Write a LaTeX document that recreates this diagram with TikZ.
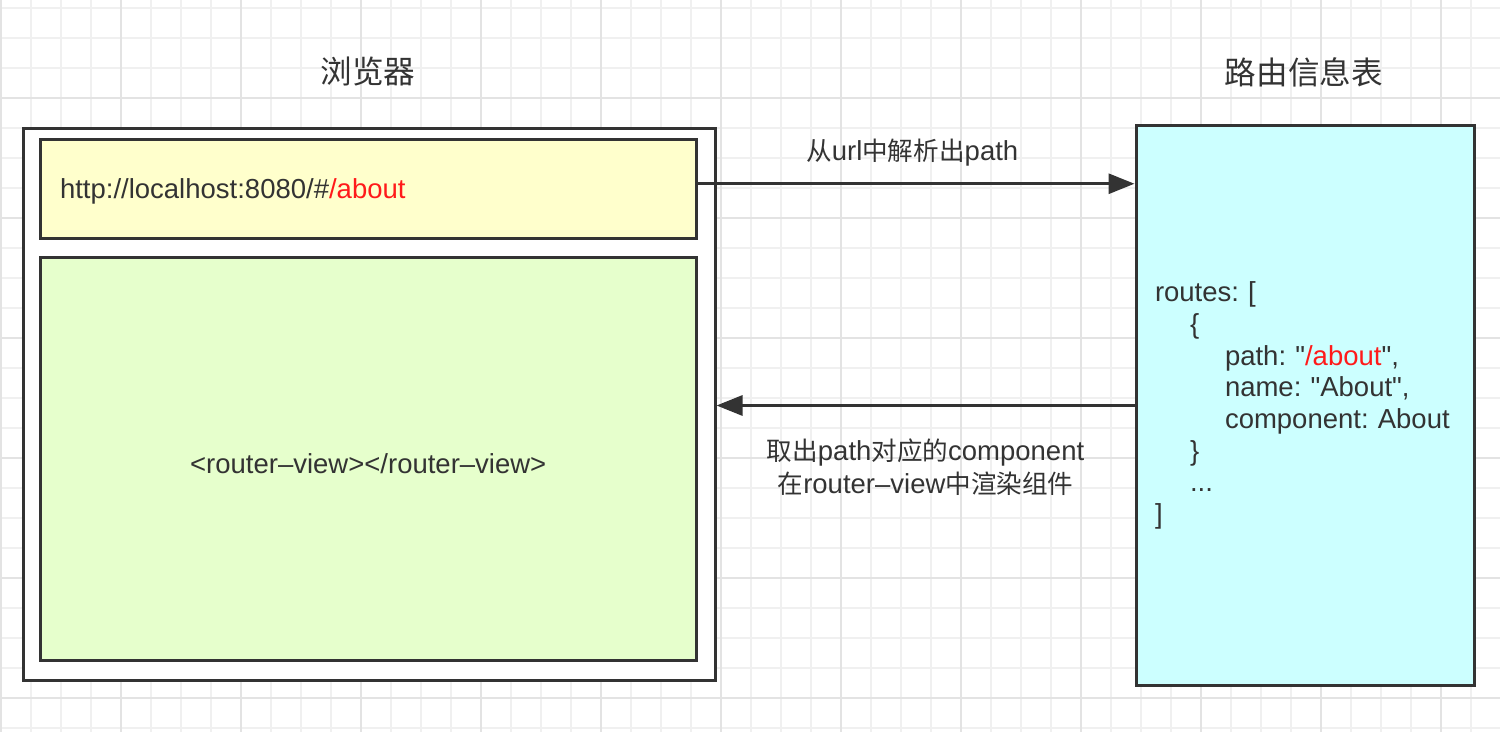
\documentclass[tikz,border=0pt]{standalone}
\usepackage{fontspec}
\setmainfont{Liberation Sans}
\newfontfamily\cjk[Scale=0.93]{Noto Sans CJK SC}
\usepackage{tikz}
\usetikzlibrary{arrows.meta}
\definecolor{ink}{HTML}{333333}
\definecolor{gridminor}{HTML}{F0F0F0}
\definecolor{gridmajor}{HTML}{E3E3E3}
\definecolor{urlfill}{HTML}{FFFFCC}
\definecolor{viewfill}{HTML}{E6FFCC}
\definecolor{routefill}{HTML}{CCFFFF}
\definecolor{hl}{HTML}{FF1A1A}
\newcommand\bodyfont{\fontsize{13.75pt}{16.5pt}\selectfont\frenchspacing}
\newcommand\qt{\textquotedbl}
\tikzset{box/.style={rectangle, draw=ink, line width=1.5pt, inner sep=0pt}}
\tikzset{title/.style={text=ink, font=\fontsize{17pt}{20pt}\selectfont\cjk}}
\tikzset{flow/.style={draw=ink, line width=1.5pt, -{Triangle[length=13pt,width=10pt]}}}
\tikzset{lbl/.style={text=ink, inner sep=0pt, align=center}}

\begin{document}
\begin{tikzpicture}[x=0.5pt,y=-0.5pt,font=\bodyfont,text=ink]
  \useasboundingbox (0,0) rectangle (1500,732);
  % grid paper
  \foreach \x in {1,31,...,1499} \draw[gridminor, line width=1pt] (\x,0) -- (\x,732);
  \foreach \y in {8,38,...,731} \draw[gridminor, line width=1pt] (0,\y) -- (1500,\y);
  \foreach \x in {1,121,...,1499} \draw[gridmajor, line width=1pt] (\x,0) -- (\x,732);
  \foreach \y in {98,218,...,731} \draw[gridmajor, line width=1pt] (0,\y) -- (1500,\y);

  % browser
  \node[box, fill=white, minimum width=346pt, minimum height=275.75pt] (browser) at (369,404.25) {};
  \node[box, fill=urlfill, text width=308.25pt, inner xsep=10pt, minimum height=49.75pt, align=left,
        text height=12.5pt, text depth=3pt] (url) at (368.25,189.25)
    {http://localhost:8080/\#\textcolor{hl}{/about}};
  \node[box, fill=viewfill, minimum width=328.25pt, minimum height=201pt,
        text height=15pt, text depth=0.3pt] (view) at (368.25,459)
    {<router--view></router--view>};

  % route table
  \node[box, fill=routefill, text width=150pt, inner xsep=9.5pt, minimum height=279.5pt, align=left,
        font=\fontsize{13.75pt}{15.85pt}\selectfont\frenchspacing] (table) at (1305,405.5)
    {routes: [\\
     \hspace*{17.5pt}\{\\
     \hspace*{35pt}path: \qt\textcolor{hl}{/about}\qt,\\
     \hspace*{35pt}name: \qt About\qt,\\
     \hspace*{35pt}component: About\\
     \hspace*{17.5pt}\}\\
     \hspace*{17.5pt}...\\
     ]};

  \node[title] (browsertitle) at (368,72) {浏览器};
  \node[title] (tabletitle) at (1304,72) {路由信息表};

  \draw[flow] ([yshift=2.75pt]url.east) -- ([yshift=2.75pt]url.east -| table.west)
    node[midway, above=8pt, xshift=-2pt, lbl] (parse) {{\cjk 从}url{\cjk 中解析出}path};
  \draw[flow] (table.west) -- (table.west -| browser.east)
    node[midway, below=16pt, lbl] (render) {{\cjk 取出}path{\cjk 对应的}component\\{\cjk 在}router--view{\cjk 中渲染组件}};
\end{tikzpicture}
\end{document}
